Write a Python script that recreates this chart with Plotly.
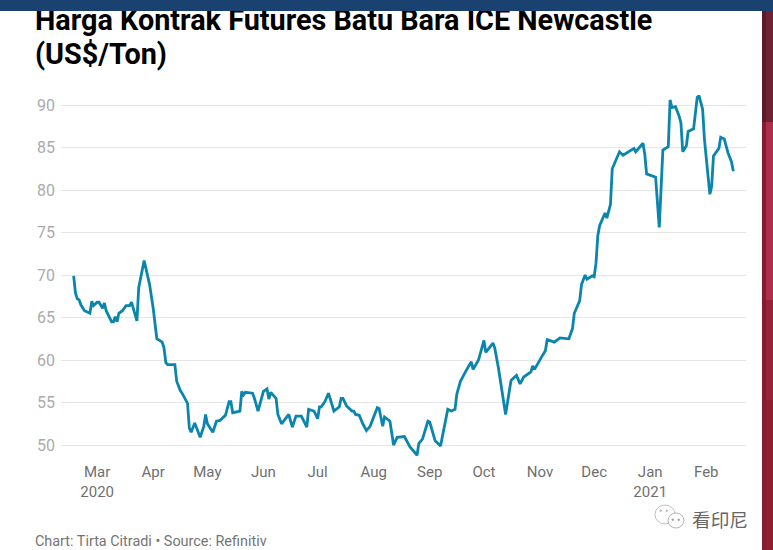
import pandas as pd
import plotly.graph_objects as go

base_date = "2020-03-01"
days_from_base = [-13,-12,-11,-10,-9,-7,-4,-3,-2,0,1,3,4,5,8,9,10,11,12,14,16,18,19,22,23,26,29,30,31,33,36,37,38,39,43,44,46,47,50,51,52,54,57,59,60,61,64,66,68,71,73,74,75,79,80,81,82,86,87,89,92,94,95,96,98,99,100,102,106,108,110,113,116,117,120,122,123,124,126,128,130,131,134,135,136,138,141,142,143,145,147,149,151,155,156,158,159,162,164,166,170,173,177,178,180,183,184,187,190,194,196,198,199,201,204,207,208,211,214,215,219,220,222,226,228,229,232,234,236,240,241,242,246,248,249,253,256,261,263,264,267,268,270,271,274,275,276,277,278,281,282,284,285,287,289,291,295,297,298,302,303,304,309,311,313,316,317,318,320,322,323,324,326,327,330,332,333,335,336,339,340,341,344,345,347,349,351,352]
price = [69.9,67.9,67.2,67.1,66.5,65.8,65.5,66.9,66.4,66.8,66.8,66.1,66.7,65.8,64.5,64.5,65.1,64.5,65.5,65.8,66.4,66.4,66.8,64.6,68.5,71.7,68.9,67.5,66.1,62.5,62.1,61.4,59.7,59.45,59.45,57.5,56.4,56.1,54.9,52.0,51.5,52.6,50.9,52.2,53.6,52.5,51.5,52.8,52.9,53.5,55.1,55.1,53.8,54.0,56.3,55.9,56.2,56.1,55.5,54.0,56.3,56.6,55.4,56.2,55.8,55.5,53.6,52.5,53.6,52.1,53.4,53.4,52.1,54.2,54.0,53.1,54.5,54.5,55.1,56.1,54.7,54.0,54.5,55.5,55.5,54.6,54.0,54.0,53.6,53.5,52.5,51.7,52.2,54.4,54.3,52.2,53.3,52.8,50.0,50.9,51.0,49.8,48.8,50.2,50.7,52.8,52.7,50.5,49.9,54.2,54.0,54.2,56.0,57.5,58.7,59.8,58.9,60.0,62.3,60.9,62.0,61.4,59.1,53.6,56.3,57.6,58.2,57.2,58.0,58.6,59.3,58.9,60.4,61.1,62.4,62.1,62.6,62.5,63.7,65.5,67.0,68.9,70.0,69.5,69.9,69.8,71.4,74.6,75.8,77.3,76.7,78.3,82.5,83.4,84.5,84.1,84.7,84.9,84.5,85.5,84.2,81.9,81.5,75.6,84.7,85.1,90.6,89.7,89.8,88.7,87.9,84.5,85.2,86.9,87.2,90.9,91.1,89.5,86.0,79.5,80.4,84.0,84.9,86.2,86.0,84.4,83.3,82.2]
y_ticks = [50,55,60,65,70,75,80,85,90]
x_ticks = ["2020-03-01","2020-04-01","2020-05-01","2020-06-01","2020-07-01","2020-08-01","2020-09-01","2020-10-01","2020-11-01","2020-12-01","2021-01-01","2021-02-01"]
x_labels = ["Mar<br>2020","Apr","May","Jun","Jul","Aug","Sep","Oct","Nov","Dec","Jan<br>2021","Feb"]
title_line_1 = "Harga Kontrak Futures Batu Bara ICE Newcastle"
title_line_2 = "(US$/Ton)"
source_text = "Chart: Tirta Citradi • Source: Refinitiv"
mark_text = "看印尼"

W, H = 773, 550
ML, MR, MT, MB = 61, 27, 95, 85
dates = pd.Timestamp(base_date) + pd.to_timedelta(days_from_base, unit="D")

fig = go.Figure(go.Scatter(x=dates, y=price, mode="lines",
                           line=dict(color="#0a85ad", width=2.8), hoverinfo="skip"))

def px(v): return (v - ML) / (W - ML - MR)
def py(v): return 1 - (v - MT) / (H - MT - MB)

def rect(x0, x1, y0, y1, color):
    return dict(type="rect", xref="paper", yref="paper", x0=px(x0), x1=px(x1), y0=py(y1), y1=py(y0),
                fillcolor=color, line_width=0, layer="below")

def circ(x0, x1, y0, y1, fill, edge):
    return dict(type="circle", xref="paper", yref="paper", x0=px(x0), x1=px(x1), y0=py(y1), y1=py(y0),
                fillcolor=fill, line=dict(color=edge, width=1), layer="above")

shapes = [
    rect(762, 773, 11, 122, "#6e2233"),
    rect(762, 773, 122, 300, "#ad2f4d"),
    rect(762, 773, 300, 400, "#96233a"),
    rect(762, 773, 400, 550, "#8f1f30"),
    rect(762, 766, 11, 122, "#5a1c2a"),
    rect(762, 766, 122, 550, "#841d2f"),
    circ(655, 675, 505, 524, "white", "#c0c0c0"),
    circ(668, 684, 513, 528, "white", "#b5b5b5"),
    circ(660, 661.5, 510, 511.5, "#b5b5b5", "#b5b5b5"),
    circ(666, 667.5, 510, 511.5, "#b5b5b5", "#b5b5b5"),
    circ(672, 673.5, 519, 520.5, "#9a9a9a", "#9a9a9a"),
    circ(678, 679.5, 519, 520.5, "#9a9a9a", "#9a9a9a"),
]

def note(text, x, y, size, color, family="Roboto", weight=None):
    return dict(text=text, xref="paper", yref="paper", x=px(x), y=py(y), showarrow=False, align="left",
                xanchor="left", yanchor="middle",
                font=dict(family=family, size=size, color=color, weight=weight))

annotations = [
    note(title_line_1, 33, 20, 28.8, "#000000", weight=700),
    note(title_line_2, 33, 54, 28.8, "#000000", weight=700),
    note(source_text, 33, 541, 14.4, "#757575"),
    note(mark_text, 690, 518, 18.7, "#666666", family="Noto Sans CJK SC"),
    dict(text=" ", xref="paper", yref="paper", x=px(0), y=py(0), xanchor="left", yanchor="top", showarrow=False,
         width=W, height=11, bgcolor="#1a4270", borderpad=0, borderwidth=0, font=dict(size=1)),
]

fig.update_layout(
    width=W, height=H, autosize=False, showlegend=False,
    paper_bgcolor="white", plot_bgcolor="white",
    margin=dict(l=ML, r=MR, t=MT, b=MB),
    shapes=shapes, annotations=annotations,
    xaxis=dict(type="date", range=["2020-02-10", "2021-02-23"], tickmode="array", tickvals=x_ticks, ticktext=x_labels,
               showgrid=False, zeroline=False, showline=False, ticks="", ticklabelstandoff=-4,
               tickfont=dict(family="Roboto", size=15, color="#6f6f6f"), tickangle=0),
    yaxis=dict(range=[47.65, 91.18], tickmode="array", tickvals=y_ticks,
               showgrid=True, gridcolor="#e6e6e6", gridwidth=1.2, zeroline=False, showline=False, ticks="", ticklabelstandoff=5,
               tickfont=dict(family="Roboto", size=16, color="#ababab")),
)
fig.write_html("out.html", config=dict(displayModeBar=False),
               post_script="document.body.style.margin='0';document.documentElement.style.overflow='hidden';")
